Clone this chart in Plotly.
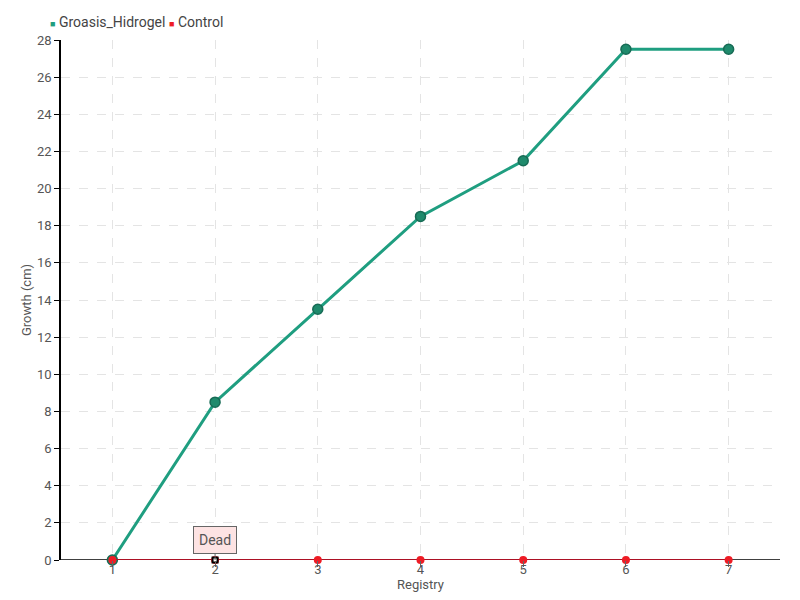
import plotly.graph_objects as go

registry = [1, 2, 3, 4, 5, 6, 7]
groasis_hidrogel = [0, 8.5, 13.5, 18.5, 21.5, 27.5, 27.5]
control = [0, 0, 0, 0, 0, 0, 0]
y_ticks = list(range(0, 29, 2))
series_names = ["Groasis_Hidrogel", "Control"]

FONT = "Roboto, sans-serif"
GREEN = "#1f9e80"
RED = "#ee1c25"

fig = go.Figure()
fig.add_trace(go.Scatter(
    x=registry, y=groasis_hidrogel, name=series_names[0], mode="lines+markers",
    showlegend=False, cliponaxis=False,
    line=dict(color=GREEN, width=3),
    marker=dict(size=10, color="#1f8a6c", line=dict(color="#176b55", width=1.5)),
))
fig.add_trace(go.Scatter(
    x=registry, y=control, name=series_names[1], mode="lines+markers",
    showlegend=False, cliponaxis=False,
    line=dict(color="#d0021b", width=1.5),
    marker=dict(size=8, color=RED),
))
fig.add_trace(go.Scatter(
    x=[2], y=[0], mode="markers", showlegend=False, hoverinfo="skip", cliponaxis=False,
    marker=dict(size=5, symbol="square", color="white", line=dict(color="black", width=2)),
))

fig.add_annotation(
    x=2, y=0, text="Dead", showarrow=True, arrowhead=0, arrowwidth=1, arrowcolor="#666",
    ax=0, ay=-20, bgcolor="#fde3e3", bordercolor="#666", borderwidth=1, borderpad=5,
    font=dict(family=FONT, size=14, color="#555"),
)

# legend drawn as text annotations with small square glyphs
fig.add_annotation(
    xref="paper", yref="paper", x=-0.018, y=1.035, xanchor="left", yanchor="middle",
    showarrow=False,
    text=f"<span style='color:{GREEN};font-size:9px'>■</span> {series_names[0]}",
    font=dict(family=FONT, size=14, color="#444"),
)
fig.add_annotation(
    xref="paper", yref="paper", x=0.148, y=1.035, xanchor="left", yanchor="middle",
    showarrow=False,
    text=f"<span style='color:{RED};font-size:9px'>■</span> {series_names[1]}",
    font=dict(family=FONT, size=14, color="#444"),
)

fig.update_layout(
    width=800, height=600,
    paper_bgcolor="white", plot_bgcolor="white",
    margin=dict(l=61, r=20, t=40, b=40, autoexpand=False),
    font=dict(family=FONT, size=13, color="#555"),
    showlegend=False,
    xaxis=dict(
        range=[0.5, 7.5], tickvals=registry, ticktext=[str(v) for v in registry],
        showgrid=True, gridcolor="#e4e4e4", griddash="dash", gridwidth=1,
        zeroline=False, showline=False, ticks="outside", ticklen=6, tickcolor="#666",
        ticklabelstandoff=-9,
        title=dict(text="Registry", standoff=0, font=dict(size=13, color="#555")),
        tickfont=dict(size=13, color="#555"),
    ),
    yaxis=dict(
        range=[0, 28], tickvals=y_ticks,
        showgrid=True, gridcolor="#e4e4e4", griddash="dash", gridwidth=1,
        zeroline=False, showline=True, linecolor="black", linewidth=1.5,
        ticks="outside", ticklen=5, tickcolor="black",
        title=dict(text="Growth (cm)", standoff=2, font=dict(size=13, color="#555")),
        tickfont=dict(size=13, color="#555"),
    ),
)
fig.add_shape(type="line", xref="paper", yref="y", x0=0, x1=1, y0=0, y1=0,
              line=dict(color="black", width=1.5), layer="below")

fig.write_html("out.html", config={"displayModeBar": False},
               post_script="document.body.style.margin='0';")
